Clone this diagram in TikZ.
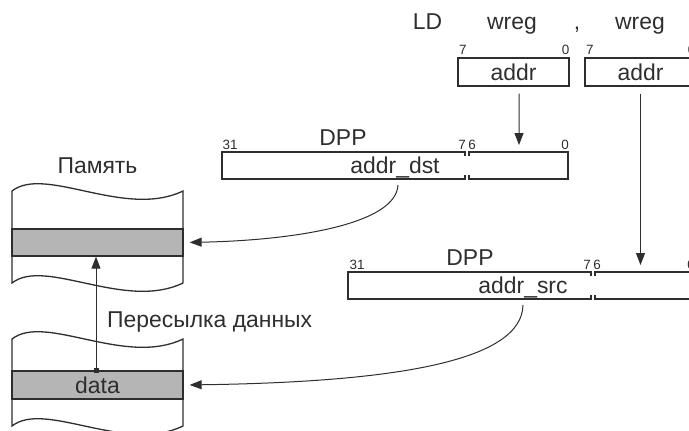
\documentclass[tikz,border=0pt]{standalone}
\usepackage{fontspec}
\setmainfont{Liberation Sans}
\usetikzlibrary{arrows.meta, positioning, calc}

\begin{document}
\begin{tikzpicture}[x=1bp, y=-1bp, >={Triangle[length=12bp,width=9bp]}, line join=miter]
	
	%======================
	% PARAMETERS (edit here)
	%======================
	\def\regw{111}      % width of a wreg box
	\def\regh{28}       % height of a wreg box
	\def\dppl{243}      % left part of DPP (bits 31..7)
	\def\dppg{4}        % break between the two parts
	\def\dppr{99}       % right part of DPP (bits 6..0)
	\def\dpph{27}       % height of DPP
	\def\tick{4}        % short end strokes at the break
	\def\memw{171}      % width of memory strip
	
	% Colours and styles
	\definecolor{ink}{HTML}{2E2E2E}
	\definecolor{cellgray}{HTML}{B4B5B4}
	\tikzset{
		txt/.style={font=\fontsize{23}{27}\selectfont, text=ink, inner sep=0pt, anchor=base},
		bit/.style={font=\fontsize{13.5}{15}\selectfont, text=ink, inner sep=0pt, anchor=base},
		regbox/.style={draw=ink, line width=1.3bp, inner sep=0pt, minimum width=\regw bp,
			minimum height=\regh bp, font=\fontsize{23}{27}\selectfont, text=ink},
		wall/.style={draw=ink, line width=1.3bp},
		memcell/.style={draw=ink, line width=1.3bp, fill=cellgray, inner sep=0pt,
			minimum width=\memw bp, minimum height=28bp, font=\fontsize{23}{27}\selectfont, text=ink},
		link/.style={draw=ink, line width=1bp, ->}
	}
	
	\clip (0,0) rectangle (689,430);
	
	%======================
	% INSTRUCTION: LD wreg , wreg
	%======================
	\node[txt] (ld)      at (427.5,29) {LD};
	\node[txt] (wregdst) at (512,29)   {wreg};
	\node[txt] (comma)   at (577,29)   {,};
	\node[txt] (wregsrc) at (640,29)   {wreg};
	
	\node[regbox] (regdst) at (513.5,72) {addr};
	\node[regbox] (regsrc) at (640.5,72) {addr};
	\node[bit, anchor=base west] (regdst-hi) at ([xshift=1.5bp, yshift=3bp]regdst.north west) {7};
	\node[bit, anchor=base east] (regdst-lo) at ([yshift=3bp]regdst.north east) {0};
	\node[bit, anchor=base west] (regsrc-hi) at ([xshift=1.5bp, yshift=3bp]regsrc.north west) {7};
	\node[bit, anchor=base east] (regsrc-lo) at ([xshift=-1bp, yshift=3bp]regsrc.north east) {0};
	
	%======================
	% DPP for destination
	%======================
	\begin{scope}[shift={(222,152)}]
		\draw[wall] (\dppl,\tick) -- (\dppl,0) -- (0,0) -- (0,\dpph) -- (\dppl,\dpph) -- (\dppl,{\dpph-\tick});
		\draw[wall] ({\dppl+\dppg},\tick) -- ({\dppl+\dppg},0) -- ({\dppl+\dppg+\dppr},0)
		-- ({\dppl+\dppg+\dppr},\dpph) -- ({\dppl+\dppg},\dpph) -- ({\dppl+\dppg},{\dpph-\tick});
		
		\node[bit] (dppdst-31)   at (8,-3)   {31};
		\node[txt] (dppdst-name) at (121,-7) {DPP};
		\node[bit] (dppdst-7)    at (240,-3) {7};
		\node[bit] (dppdst-6)    at (250,-3) {6};
		\node[bit] (dppdst-0)    at (343,-3) {0};
		\node[txt] (dppdst-lbl)  at (173,21) {addr\_dst};
		
		\coordinate (dppdst-in)  at (297,-7);
		\coordinate (dppdst-out) at (176,33);
	\end{scope}
	
	%======================
	% DPP for source
	%======================
	\begin{scope}[shift={(348,272)}]
		\draw[wall] (\dppl,\tick) -- (\dppl,0) -- (0,0) -- (0,\dpph) -- (\dppl,\dpph) -- (\dppl,{\dpph-\tick});
		\draw[wall] ({\dppl+\dppg},\tick) -- ({\dppl+\dppg},0) -- ({\dppl+\dppg+\dppr},0)
		-- ({\dppl+\dppg+\dppr},\dpph) -- ({\dppl+\dppg},\dpph) -- ({\dppl+\dppg},{\dpph-\tick});
		
		\node[bit] (dppsrc-31)   at (9,-3)   {31};
		\node[txt] (dppsrc-name) at (122,-7) {DPP};
		\node[bit] (dppsrc-7)    at (239,-3) {7};
		\node[bit] (dppsrc-6)    at (249,-3) {6};
		\node[bit] (dppsrc-0)    at (343,-3) {0};
		\node[txt] (dppsrc-lbl)  at (175,21) {addr\_src};
		
		\coordinate (dppsrc-in)  at (292.5,-7);
		\coordinate (dppsrc-out) at (175,33);
	\end{scope}
	
	%======================
	% MEMORY
	%======================
	\begin{scope}[shift={(12,191)}]
		\node[txt] (mem-title) at (85.5,-18) {Память};
		\draw[wall] (0,0) .. controls (33,-26) and (113,28) .. (\memw,0) -- (\memw,92)
		.. controls (113,120) and (33,66) .. (0,92) -- cycle;
		\node[memcell, minimum height=27bp] (cellA) at ({\memw/2},51.5) {};
	\end{scope}
	
	\begin{scope}[shift={(12,339)}]
		\draw[wall] (0,0) .. controls (33,-26) and (113,28) .. (\memw,0) -- (\memw,87)
		.. controls (113,115) and (33,61) .. (0,87) -- cycle;
		\node[memcell] (cellB) at ({\memw/2},46) {data};
	\end{scope}
	
	%======================
	% CONNECTIONS
	%======================
	\draw[link] ([xshift=5.5bp, yshift=-7bp]regdst.south) -- (dppdst-in);
	\draw[link] ([yshift=-7bp]regsrc.south) -- (dppsrc-in);
	
	\draw[link, shorten >=6bp] (dppdst-out) .. controls +(-2,40) and +(107,-2) .. (cellA.east);
	\draw[link, shorten >=6bp] (dppsrc-out) .. controls +(-1,55) and +(217,-3) .. (cellB.east);
	
	% data transfer inside memory
	\coordinate (xfer-src) at ([xshift=-1.5bp]cellB.north);
	\draw[link] (xfer-src) -- ([xshift=-1.5bp]cellA.south);
	\fill[ink] ([xshift=-2.5bp, yshift=-2.5bp]xfer-src) rectangle ([xshift=2.5bp, yshift=2.5bp]xfer-src);
	\node[txt, anchor=base west] (xfer-lbl) at (107,327) {Пересылка данных};
	
\end{tikzpicture}
\end{document}
